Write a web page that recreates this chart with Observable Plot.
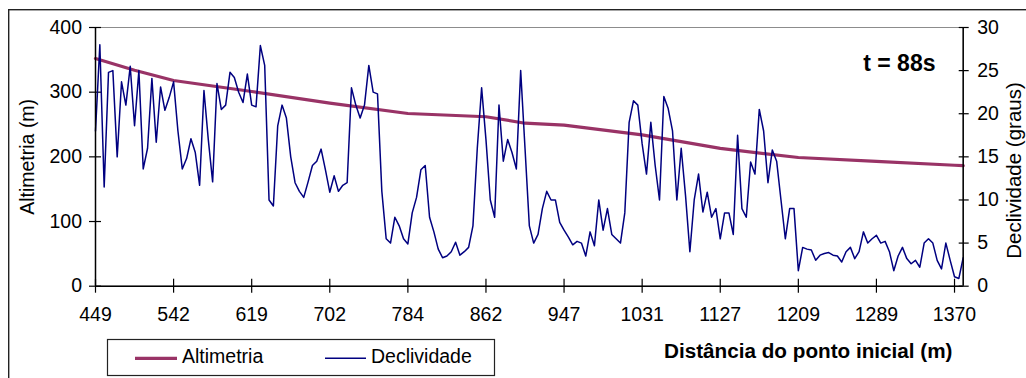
<!DOCTYPE html>
<html><head><meta charset="utf-8">
<script src="https://cdn.jsdelivr.net/npm/d3@7"></script>
<script src="https://cdn.jsdelivr.net/npm/@observablehq/plot@0.6"></script>
<style>html,body{margin:0;padding:0;background:#fff}svg{display:block}</style>
</head><body><div id="chart"></div>
<script>
// Tick labels of the category axis (distance from start, m), one every 18 points
const distanceLabels = ["449", "542", "619", "702", "784", "862", "947", "1031", "1127", "1209", "1289", "1370"];
const labelStep = 18;
// Altimetria (m) at point indices
const altIndex = [0, 9, 18, 36, 54, 72, 90, 99, 108, 126, 144, 162, 180, 198, 200];
const altimetria = [352, 334, 318, 301, 283, 267, 262, 252, 249, 234, 213, 199, 193, 187, 186.5];
// Declividade (graus), one value per point (201 points)
const declividade = [
 18,28,11.5,24.8,25,15,23.7,21,25.5,18.6,
 25,13.6,16,24.1,16.7,23.1,20.4,21.9,23.7,18,
 13.6,14.8,17.1,15.5,11.7,22.7,17,12.1,23.5,20.5,
 21,24.8,24.2,22.5,21.3,24.6,21,20.8,27.9,25.6,
 10,9.3,18.6,21,19.5,15,12,11,10.3,12.1,
 14,14.5,15.9,13.5,10.9,12.8,11,11.7,12,23,
 21,19.5,21,25.6,22.5,22.3,11,5.5,5,8,
 7,5.5,4.9,8.5,10.3,13.5,14,8,6.3,4.3,
 3.3,3.5,4,5.1,3.6,4,4.5,7,16,23,
 17,10,8,21,14.5,17,15.5,13.6,25,16,
 7,5,6,9,11,10,10,7.4,6.5,5.7,
 4.8,5.2,5,3.5,6.3,4.7,10,6.5,9,6,
 5.5,5,8.5,19,21.5,21,16.5,13,19,14,
 10,22,20.6,18,10,16,10.5,4,10,13,
 8.6,10.9,8,9,5.5,8.5,8.5,6,17.5,9,
 8,14.4,13,20.5,18,12,15.8,14.5,10,5.5,
 9,9,1.8,4.5,4.3,4.2,3,3.6,3.8,3.9,
 3.6,3.5,2.8,4,4.5,3.2,4,6.3,5,5.5,
 5.9,5,5.2,4,1.8,3.5,4.5,3.2,2.6,3,
 2.2,5,5.5,5,3,2,5,3,1.1,0.9,
 3.3];
const leftTicks = [0, 100, 200, 300, 400];
const rightTicks = [0, 5, 10, 15, 20, 25, 30];

const K = 400 / 30; // graus -> m on the shared y scale
const altData = altIndex.map((i, k) => ({i, v: altimetria[k]}));
const declData = declividade.map((g, i) => ({i, v: g * K}));
const tickIdx = distanceLabels.map((_, k) => k * labelStep);
const font = "'Liberation Sans', Arial, sans-serif";
const RED = "#993366", BLUE = "#000080";

const chart = Plot.plot({
  width: 1026, height: 378,
  marginLeft: 95, marginRight: 63.3, marginTop: 27, marginBottom: 92.3,
  style: {fontFamily: font, fontSize: "19.5px", background: "#fff", color: "#000", overflow: "visible"},
  x: {domain: [0, declividade.length - 1]},
  y: {domain: [0, 400]},
  marks: [
    Plot.frame({stroke: "#8c8c8c"}),
    Plot.axisY(leftTicks, {anchor: "left", tickSize: 12, dx: 6, tickPadding: 7.5, label: null, fontSize: 19.5, strokeWidth: 1.2}),
    Plot.axisY(rightTicks.map(v => v * K), {anchor: "right", tickSize: 10, dx: -5, tickPadding: 9, tickFormat: v => String(Math.round(v / K)), label: null, fontSize: 19.5, strokeWidth: 1.2}),
    Plot.axisX(tickIdx, {anchor: "bottom", tickSize: 14, dy: -7, tickPadding: 14, tickFormat: d => distanceLabels[Math.round(d / labelStep)], label: null, fontSize: 19.5, strokeWidth: 1.2}),
    Plot.line(altData, {x: "i", y: "v", stroke: RED, strokeWidth: 3.2}),
    Plot.line(declData, {x: "i", y: "v", stroke: BLUE, strokeWidth: 1.5}),
    Plot.ruleX([0], {stroke: "#000", strokeWidth: 1.5}),
    Plot.ruleX([declividade.length - 1], {stroke: "#000", strokeWidth: 1.5}),
    Plot.ruleY([0], {stroke: "#000", strokeWidth: 1.5}),
    Plot.text(["Altimetria (m)"], {frameAnchor: "left", rotate: -90, textAnchor: "middle", dx: -68, fontSize: 19.5}),
    Plot.text(["Declividade (graus)"], {frameAnchor: "bottom-right", rotate: -90, textAnchor: "start", dx: 57.5, dy: -27.4, fontSize: 20.5}),
    Plot.text(["t = 88s"], {frameAnchor: "top-right", textAnchor: "end", lineAnchor: "bottom", dx: -27.7, dy: 43, fontSize: 23, fontWeight: "bold"}),
    Plot.text(["Distância do ponto inicial (m)"], {frameAnchor: "bottom-right", textAnchor: "end", lineAnchor: "bottom", dx: -10.7, dy: 71.3, fontSize: 20.7, fontWeight: "bold"})
  ]
});

const svg = d3.select(chart);
// outer chart border
svg.append("rect").attr("x", 8.7).attr("y", 9.7).attr("width", 1100).attr("height", 500)
  .attr("fill", "none").attr("stroke", "#222").attr("stroke-width", 1.4);
// legend
const lg = svg.append("g").attr("font-family", font).attr("font-size", 19.5).attr("text-anchor", "start");
lg.append("rect").attr("x", 107.5).attr("y", 339.5).attr("width", 387).attr("height", 36)
  .attr("fill", "#fff").attr("stroke", "#222").attr("stroke-width", 1.2);
const legendItems = [
  {name: "Altimetria", color: RED, w: 3.2, x1: 135, x2: 177, tx: 182},
  {name: "Declividade", color: BLUE, w: 1.5, x1: 325, x2: 366, tx: 371}
];
for (const it of legendItems) {
  lg.append("line").attr("x1", it.x1).attr("x2", it.x2).attr("y1", 358.3).attr("y2", 358.3)
    .attr("stroke", it.color).attr("stroke-width", it.w);
  lg.append("text").attr("x", it.tx).attr("y", 362.5).attr("text-anchor", "start").text(it.name);
}
document.getElementById("chart").appendChild(chart);
</script>
</body></html>
